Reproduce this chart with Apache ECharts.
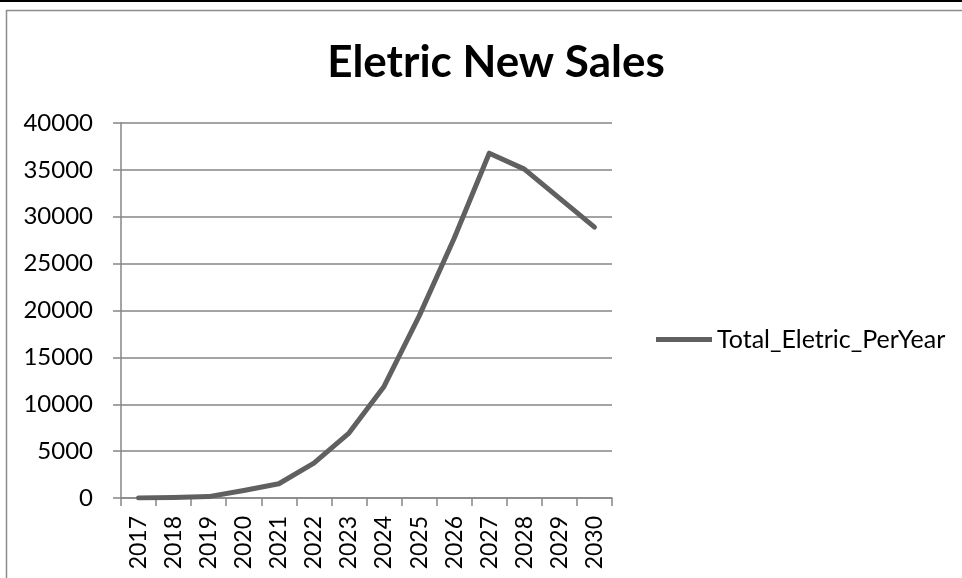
<!DOCTYPE html>
<html>
<head>
<meta charset="utf-8">
<style>
  html, body { margin: 0; padding: 0; background: #fff; }
  #chart { width: 962px; height: 578px; }
</style>
<script src="https://cdn.jsdelivr.net/npm/echarts@6/dist/echarts.min.js"></script>
</head>
<body>
<div id="chart"></div>
<script>
// Yearly totals of new electric vehicle sales
const years = ['2017', '2018', '2019', '2020', '2021', '2022', '2023',
               '2024', '2025', '2026', '2027', '2028', '2029', '2030'];
const totalElectricPerYear = [0, 50, 150, 800, 1520, 3730, 6930,
                              11900, 19400, 27700, 36780, 35080, 31980, 28890];
const seriesName = 'Total_Eletric_PerYear';
const chartTitle = 'Eletric New Sales';

const FONT = 'Lato, "Open Sans", sans-serif';
const GRID_GRAY = '#868686';
const LINE_GRAY = '#606060';

const chart = echarts.init(document.getElementById('chart'), null, { renderer: 'canvas' });

chart.setOption({
  animation: false,
  backgroundColor: '#ffffff',
  title: {
    text: chartTitle,
    left: 491,
    textAlign: 'center',
    top: 36,
    textStyle: { fontFamily: FONT, fontWeight: 'bold', fontSize: 44, color: '#000' }
  },
  graphic: [
    // strip along the top edge
    { type: 'rect', shape: { x: 0, y: 0, width: 962, height: 2 }, style: { fill: '#000' } },
    // chart area border
    { type: 'rect', shape: { x: 6.5, y: 10.5, width: 1000, height: 1000 },
      style: { fill: 'none', stroke: '#8c8c8c', lineWidth: 1.5 } }
  ],
  legend: {
    data: [seriesName],
    left: 651,
    top: 322,
    icon: 'rect',
    itemWidth: 56,
    itemHeight: 5,
    textStyle: { fontFamily: FONT, fontSize: 25, color: '#000', padding: [0, 0, 0, 0] }
  },
  grid: { left: 121, right: 350, top: 123, bottom: 80 },
  xAxis: {
    type: 'category',
    data: years,
    boundaryGap: true,
    axisLine: { lineStyle: { color: GRID_GRAY, width: 1.5 } },
    axisTick: { show: true, length: 8, alignWithLabel: false, lineStyle: { color: GRID_GRAY, width: 1.5 } },
    axisLabel: {
      rotate: 90, interval: 0, margin: 18,
      fontFamily: FONT, fontSize: 23, color: '#000'
    },
    splitLine: { show: false }
  },
  yAxis: {
    type: 'value',
    min: 0, max: 40000, interval: 5000,
    axisLine: { show: true, lineStyle: { color: GRID_GRAY, width: 1.5 } },
    axisTick: { show: true, length: 8, lineStyle: { color: GRID_GRAY, width: 1.5 } },
    axisLabel: {
      margin: 28, fontFamily: FONT, fontSize: 24, color: '#000',
      formatter: (v) => String(v)
    },
    splitLine: { show: true, lineStyle: { color: GRID_GRAY, width: 1.5 } }
  },
  series: [{
    name: seriesName,
    type: 'line',
    data: totalElectricPerYear,
    symbol: 'none',
    smooth: false,
    itemStyle: { color: LINE_GRAY },
    lineStyle: { color: LINE_GRAY, width: 5, join: 'round', cap: 'round' }
  }]
});
</script>
</body>
</html>
